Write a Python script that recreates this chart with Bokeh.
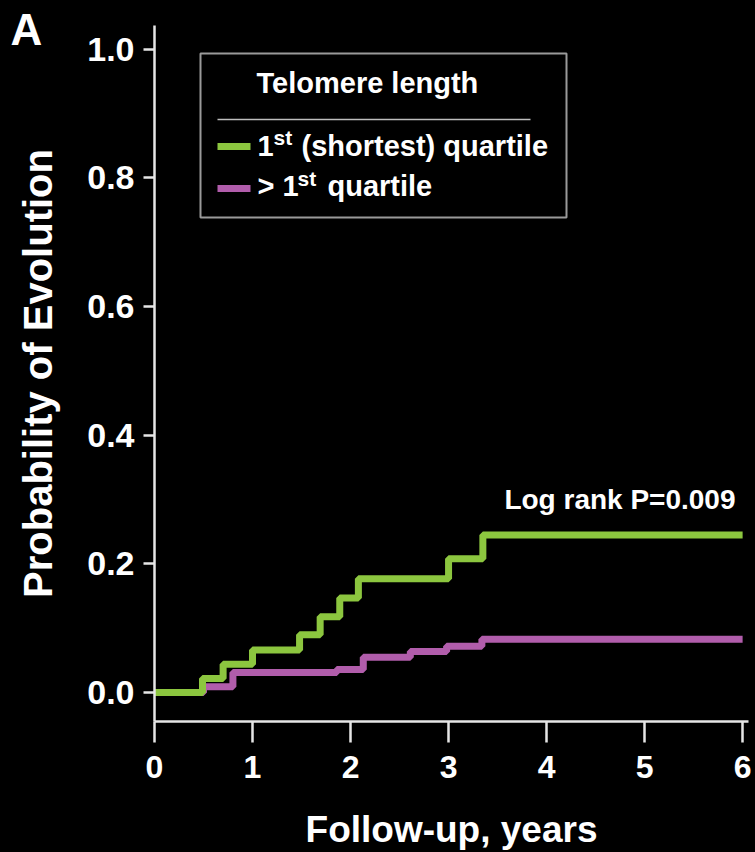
from bokeh.plotting import figure
from bokeh.models import Label, FixedTicker, Range1d, Title
from bokeh.embed import file_html
from bokeh.resources import INLINE

# Kaplan-Meier style cumulative probability of evolution by telomere length
GREEN_TIMES = [0.0, 0.49, 0.70, 1.00, 1.48, 1.69, 1.89, 2.08, 3.00, 3.35, 6.0]
GREEN_PROB = [0.0, 0.022, 0.044, 0.066, 0.090, 0.118, 0.147, 0.177, 0.208, 0.245, 0.245]

MAGENTA_TIMES = [0.0, 0.50, 0.80, 1.86, 2.13, 2.61, 2.98, 3.34, 6.0]
MAGENTA_PROB = [0.0, 0.009, 0.031, 0.036, 0.055, 0.064, 0.072, 0.083, 0.083]

X_TICKS = [0, 1, 2, 3, 4, 5, 6]
Y_TICKS = [0.0, 0.2, 0.4, 0.6, 0.8, 1.0]
Y_TICK_LABELS = ["0.0", "0.2", "0.4", "0.6", "0.8", "1.0"]

SERIES_NAMES = ["(shortest) quartile", "quartile"]
LEGEND_TITLE = "Telomere length"
PVALUE_TEXT = "Log rank P=0.009"
PANEL_LETTER = "A"

GREEN = "#8CC63F"
MAGENTA = "#B15DAB"
AXIS_COLOR = "#E6E6E6"
FONT = "Liberation Sans"

# page and frame geometry (pixels)
W, H = 755, 852
FRAME_L, FRAME_R, FRAME_T, FRAME_B = 154, 748, 25, 721
X_START, X_END = 0.0, 6.06
Y_START, Y_END = -0.045, 1.037


def px_x(px):
    return X_START + (px - FRAME_L) / (FRAME_R - FRAME_L) * (X_END - X_START)


def px_y(py):
    return Y_START + (FRAME_B - py) / (FRAME_B - FRAME_T) * (Y_END - Y_START)


p = figure(
    width=W, height=H,
    x_range=Range1d(X_START, X_END), y_range=Range1d(Y_START, Y_END),
    output_backend="svg", toolbar_location=None,
    min_border_left=FRAME_L, min_border_right=W - FRAME_R,
    min_border_top=FRAME_T, min_border_bottom=H - FRAME_B,
    background_fill_color="black", border_fill_color="black",
    outline_line_color=None,
)
p.grid.visible = False

# panel letter: a title pulled down into the top-left corner
p.add_layout(Title(text=PANEL_LETTER, align="left", vertical_align="bottom",
                   offset=10 - FRAME_L, standoff=-56, text_color="white",
                   text_font=FONT, text_font_style="bold", text_font_size="44px"),
             "above")

# axes
for ax in (p.xaxis[0], p.yaxis[0]):
    ax.axis_line_color = AXIS_COLOR
    ax.axis_line_width = 2.5
    ax.major_tick_line_color = AXIS_COLOR
    ax.major_tick_line_width = 2.5
    ax.minor_tick_line_color = None
    ax.major_tick_in = 0
    ax.major_label_text_color = "white"
    ax.major_label_text_font = FONT
    ax.major_label_text_font_style = "bold"
    ax.axis_label_text_color = "white"
    ax.axis_label_text_font = FONT
    ax.axis_label_text_font_style = "bold"

p.xaxis.ticker = FixedTicker(ticks=X_TICKS)
p.xaxis.major_tick_out = 21
p.xaxis.major_label_text_font_size = "32px"
p.xaxis.major_label_standoff = 13
p.xaxis.axis_label = "Follow-up, years"
p.xaxis.axis_label_text_font_size = "37px"
p.xaxis.axis_label_standoff = 28

p.yaxis.ticker = FixedTicker(ticks=Y_TICKS)
p.yaxis.major_label_overrides = {t: s for t, s in zip(Y_TICKS, Y_TICK_LABELS)}
p.yaxis.major_tick_out = 11
p.yaxis.major_label_text_font_size = "34px"
p.yaxis.major_label_standoff = 9
p.yaxis.axis_label = "Probability of Evolution"
p.yaxis.axis_label_text_font_size = "40px"
p.yaxis.axis_label_standoff = 24

# survival-type step curves
p.step(MAGENTA_TIMES, MAGENTA_PROB, mode="after", line_color=MAGENTA, line_width=7)
p.step(GREEN_TIMES, GREEN_PROB, mode="after", line_color=GREEN, line_width=7)

# legend box
p.quad(left=[px_x(200)], right=[px_x(566)], top=[px_y(53)], bottom=[px_y(217)],
       fill_color="black", line_color="#9A9A9A", line_width=2)
p.segment(x0=[px_x(217)], x1=[px_x(530)], y0=[px_y(119)], y1=[px_y(119)],
          line_color="#BDBDBD", line_width=1.5)
p.segment(x0=[px_x(217), px_x(217)], x1=[px_x(250), px_x(250)],
          y0=[px_y(146), px_y(188)], y1=[px_y(146), px_y(188)],
          line_color=[GREEN, MAGENTA], line_width=7)


def add_text(text, px, py, size, align="left"):
    # py is the wanted baseline; alphabetic baseline sits ~0.41em lower once drawn
    fs = float(size.rstrip("px"))
    p.add_layout(Label(x=px_x(px), y=px_y(py - 0.41 * fs), text=text, text_color="white",
                       text_font=FONT, text_font_style="bold",
                       text_font_size=size, text_align=align,
                       text_baseline="alphabetic"))


add_text(LEGEND_TITLE, 256, 94, "29px")
add_text("1", 257, 157, "29px")
add_text("st", 273, 146, "21px")
add_text(SERIES_NAMES[0], 301, 157, "29px")
add_text(">", 257, 197, "29px")
add_text("1", 282, 197, "29px")
add_text("st", 297, 187, "21px")
add_text(SERIES_NAMES[1], 327, 197, "29px")

add_text(PVALUE_TEXT, 735, 510, "28px", align="right")

html = file_html(p, INLINE)
html = html.replace("</head>",
                    "<style>html,body{margin:0;padding:0;background:#000;overflow:hidden;}</style></head>", 1)
open("out.html", "w").write(html)
